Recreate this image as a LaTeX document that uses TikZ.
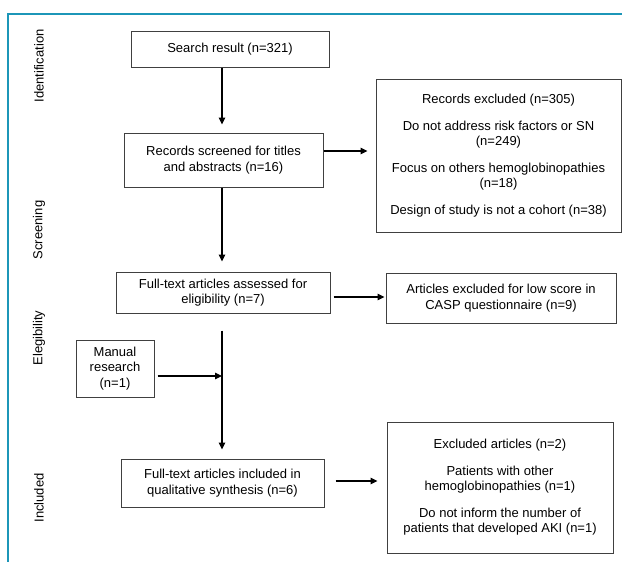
\documentclass[tikz,border=0pt]{standalone}
\usepackage{fontspec}
\setmainfont{Liberation Sans}
\usetikzlibrary{arrows.meta}
\definecolor{frameteal}{RGB}{28,150,184}
\begin{document}
\begin{tikzpicture}[x=1pt,y=-1pt,
  box/.style={draw=black!75,line width=1pt,align=center,inner sep=2pt,
    font=\fontsize{13}{15.5}\selectfont},
  arr/.style={draw=black,line width=1.1pt,-{Triangle[length=7pt,width=6.5pt]}},
  side/.style={rotate=90,font=\fontsize{13}{15.5}\selectfont}]
\useasboundingbox (0,0) rectangle (622,562);
\fill[white] (0,0) rectangle (622,562);
% frame
\draw[frameteal,line width=1.6pt] (8,562) -- (8,14) -- (622,14);
% side labels
\node[side] (lid) at (39,66) {Identification};
\node[side] (lsc) at (39,230) {Screening};
\node[side] (lel) at (39,338) {Elegibility};
\node[side] (lin) at (39,498) {Included};
% boxes
\node[box,minimum width=198pt,minimum height=36pt] (b1) at (230,49) {Search result (n=321)};
\node[box,minimum width=199pt,minimum height=54pt] (b2) at (223.5,160) {Records screened for titles\\and abstracts (n=16)};
\node[box,minimum width=245pt,minimum height=153pt] (b3) at (498.5,155.5)
  {Records excluded (n=305)\\[11pt]Do not address risk factors or SN\\(n=249)\\[11pt]Focus on others hemoglobinopathies\\(n=18)\\[11pt]Design of study is not a cohort (n=38)};
\node[box,minimum width=214pt,minimum height=41pt] (b4) at (223,292.5) {Full-text articles assessed for\\eligibility (n=7)};
\node[box,minimum width=230pt,minimum height=50pt] (b5) at (501,298) {Articles excluded for low score in\\CASP questionnaire (n=9)};
\node[box,minimum width=78pt,minimum height=57pt] (man) at (115,368.5) {Manual\\research\\(n=1)};
\node[box,minimum width=203pt,minimum height=48pt] (b6) at (222.5,483) {Full-text articles included in\\qualitative synthesis (n=6)};
\node[box,minimum width=226pt,minimum height=131pt] (b7) at (500,487.5)
  {Excluded articles (n=2)\\[11pt]Patients with other\\hemoglobinopathies (n=1)\\[11pt]Do not inform the number of\\patients that developed AKI (n=1)};
% axis
\coordinate (ax) at (222,0);
\coordinate (j) at (222,376);
% connectors
\draw[arr,shorten >=8pt] (b1.south -| ax) -- (b2.north -| ax);
\draw[arr,shorten >=10pt] (b2.south -| ax) -- (b4.north -| ax);
\draw[arr,shorten <=17pt,shorten >=9pt] (b4.south -| ax) -- (b6.north -| ax);
\draw[arr,shorten <=3pt] (man.east |- j) -- (j);
\draw[arr,shorten >=8pt] ([yshift=9pt]b2.east) -- ([yshift=9pt]b2.east -| b3.west);
\draw[arr,shorten <=3pt,shorten >=1pt] ([yshift=-4.5pt]b4.east) -- ([yshift=-4.5pt]b4.east -| b5.west);
\draw[arr,shorten <=11pt,shorten >=9pt] ([yshift=2pt]b6.east) -- ([yshift=2pt]b6.east -| b7.west);
\end{tikzpicture}
\end{document}
